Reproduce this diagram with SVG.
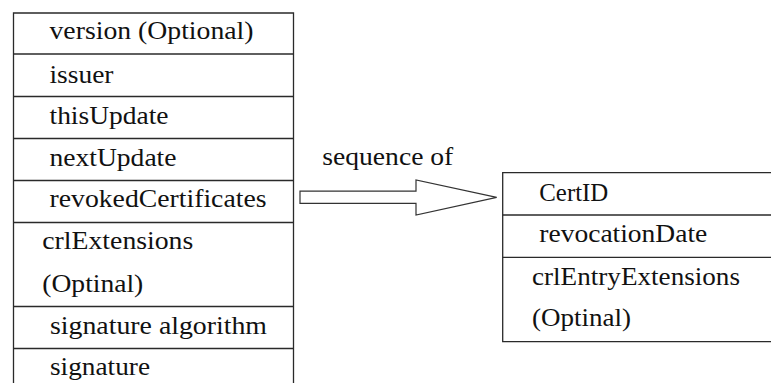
<svg xmlns="http://www.w3.org/2000/svg" width="771" height="383" viewBox="0 0 771 383">
  <style>
    .box { fill: #ffffff; stroke: #2a2a2a; stroke-width: 1.3; }
    .sep { stroke: #2a2a2a; stroke-width: 1.3; }
    .lbl { font-size: 25px; fill: #111111; }
    .arrow { fill: #ffffff; stroke: #333333; stroke-width: 1.2; stroke-linejoin: miter; }
  </style>
  <rect width="771" height="383" fill="#ffffff"/>

  <!-- CRL structure -->
  <g id="crl" font-family="Liberation Serif">
    <path class="box" d="M13.5,390 V13 H293.5 V390"/>
    <line class="sep" x1="13.5" y1="54" x2="293.5" y2="54"/>
    <line class="sep" x1="13.5" y1="96.5" x2="293.5" y2="96.5"/>
    <line class="sep" x1="13.5" y1="138.5" x2="293.5" y2="138.5"/>
    <line class="sep" x1="13.5" y1="180.5" x2="293.5" y2="180.5"/>
    <line class="sep" x1="13.5" y1="222.5" x2="293.5" y2="222.5"/>
    <line class="sep" x1="13.5" y1="306.5" x2="293.5" y2="306.5"/>
    <line class="sep" x1="13.5" y1="348.5" x2="293.5" y2="348.5"/>
    <text class="lbl" x="49.5" y="38.5" textLength="204" lengthAdjust="spacingAndGlyphs">version (Optional)</text>
    <text class="lbl" x="49.5" y="82.5" textLength="64" lengthAdjust="spacingAndGlyphs">issuer</text>
    <text class="lbl" x="49.5" y="124" textLength="119" lengthAdjust="spacingAndGlyphs">thisUpdate</text>
    <text class="lbl" x="49.5" y="165.7" textLength="127" lengthAdjust="spacingAndGlyphs">nextUpdate</text>
    <text class="lbl" x="49.5" y="207.3" textLength="217" lengthAdjust="spacingAndGlyphs">revokedCertificates</text>
    <text class="lbl" x="42.3" y="249" textLength="151" lengthAdjust="spacingAndGlyphs">crlExtensions</text>
    <text class="lbl" x="42.3" y="291.7" textLength="101" lengthAdjust="spacingAndGlyphs">(Optinal)</text>
    <text class="lbl" x="50" y="334" textLength="217" lengthAdjust="spacingAndGlyphs">signature algorithm</text>
    <text class="lbl" x="50" y="375" textLength="100" lengthAdjust="spacingAndGlyphs">signature</text>
  </g>

  <!-- revoked certificate entry -->
  <g id="entry" font-family="Liberation Serif">
    <path class="box" d="M775,172.7 H502.7 V341.7 H775"/>
    <line class="sep" x1="502.7" y1="215" x2="775" y2="215"/>
    <line class="sep" x1="502.7" y1="257.3" x2="775" y2="257.3"/>
    <text class="lbl" x="539.3" y="200.7" textLength="69" lengthAdjust="spacingAndGlyphs">CertID</text>
    <text class="lbl" x="539.3" y="241.7" textLength="168" lengthAdjust="spacingAndGlyphs">revocationDate</text>
    <text class="lbl" x="532" y="285" textLength="208" lengthAdjust="spacingAndGlyphs">crlEntryExtensions</text>
    <text class="lbl" x="532" y="326" textLength="99" lengthAdjust="spacingAndGlyphs">(Optinal)</text>
  </g>

  <!-- block arrow -->
  <g id="connectors" font-family="Liberation Serif">
    <polygon class="arrow" points="300,191.2 416,191.2 416,180 496.7,197.4 416,215 416,203.4 300,203.4"/>
    <text class="lbl" x="322.3" y="165" textLength="131" lengthAdjust="spacingAndGlyphs">sequence of</text>
  </g>
</svg>
